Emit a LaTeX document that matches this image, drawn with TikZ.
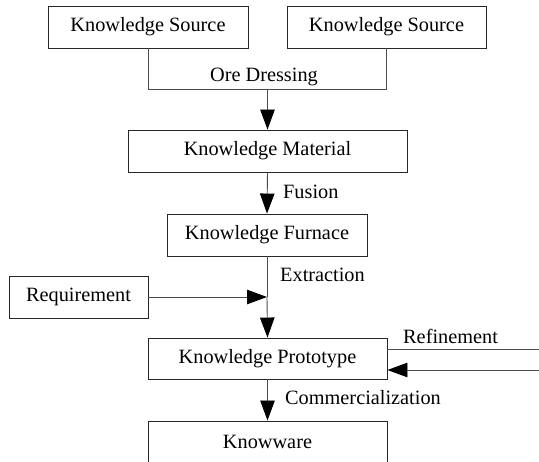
\documentclass[tikz,border=0pt]{standalone}
\usepackage{fontspec}
\setmainfont{Liberation Serif}
\usetikzlibrary{arrows.meta}

\begin{document}
\begin{tikzpicture}[
    x=1pt, y=-1pt,
    font=\fontsize{20.3}{24}\selectfont,
    % Style for the rectangular stage boxes
    stage/.style={draw=black!85, line width=0.9pt, minimum height=42pt, inner sep=0pt},
    % Style for the connecting lines and arrows
    link/.style={draw=black!70, line width=0.9pt},
    flow/.style={link, -{Triangle[width=14.5pt, length=20pt, color=black]}},
    % Style for the process names beside the arrows
    step label/.style={anchor=base west, inner sep=0pt}
]

    % --- 1. Frame ---
    \useasboundingbox (0,0) rectangle (539,462);
    \clip (0,0) rectangle (539,462);

    % --- 2. Define Nodes ---
    \node[stage, minimum width=200pt] (source1) at (148,27) {Knowledge Source};
    \node[stage, minimum width=199pt] (source2) at (386.5,27) {Knowledge Source};

    \node[stage, minimum width=279pt] (material) at (267.5,151) {Knowledge Material};
    \node[stage, minimum width=200pt] (furnace) at (267,235) {Knowledge Furnace};
    \node[stage, minimum width=139pt] (requirement) at (78.5,297) {Requirement};
    \node[stage, minimum width=239pt, minimum height=41pt] (prototype) at (267.5,358.5) {Knowledge Prototype};
    \node[stage, minimum width=239pt] (knowware) at (267.5,442) {Knowware};

    % --- 3. Define Coordinates ---
    \coordinate (join1) at (source1.south |- 0,89);
    \coordinate (join2) at (source2.south |- 0,89);
    \coordinate (joinmid) at (material.north |- 0,89);
    \coordinate (merge) at (furnace.south |- requirement.east);
    \coordinate (refine out) at (539,349);
    \coordinate (refine in) at (539,370);

    % --- 4. Draw Connectors ---
    \draw[link] (source1.south) -- (join1) -- (join2) -- (source2.south);
    \draw[flow] (joinmid) -- (material.north);
    \draw[flow] (material.south) -- (furnace.north);
    \draw[link] (furnace.south) -- (merge);
    \draw[flow] (requirement.east) -- (merge);
    \draw[flow] (merge) -- (prototype.north);
    \draw[link] (prototype.east |- refine out) -- (refine out);
    \draw[flow] (refine in) -- (prototype.east |- refine in);
    \draw[flow] (prototype.south) -- (knowware.north);

    % --- 5. Draw Labels ---
    \node[anchor=base, inner sep=0pt] (oredressing) at (264,82) {Ore Dressing};
    \node[step label] (fusion) at (283,199) {Fusion};
    \node[step label] (extraction) at (280,282) {Extraction};
    \node[step label] (refinement) at (403,344) {Refinement};
    \node[step label] (commercial) at (285,405) {Commercialization};

\end{tikzpicture}
\end{document}
